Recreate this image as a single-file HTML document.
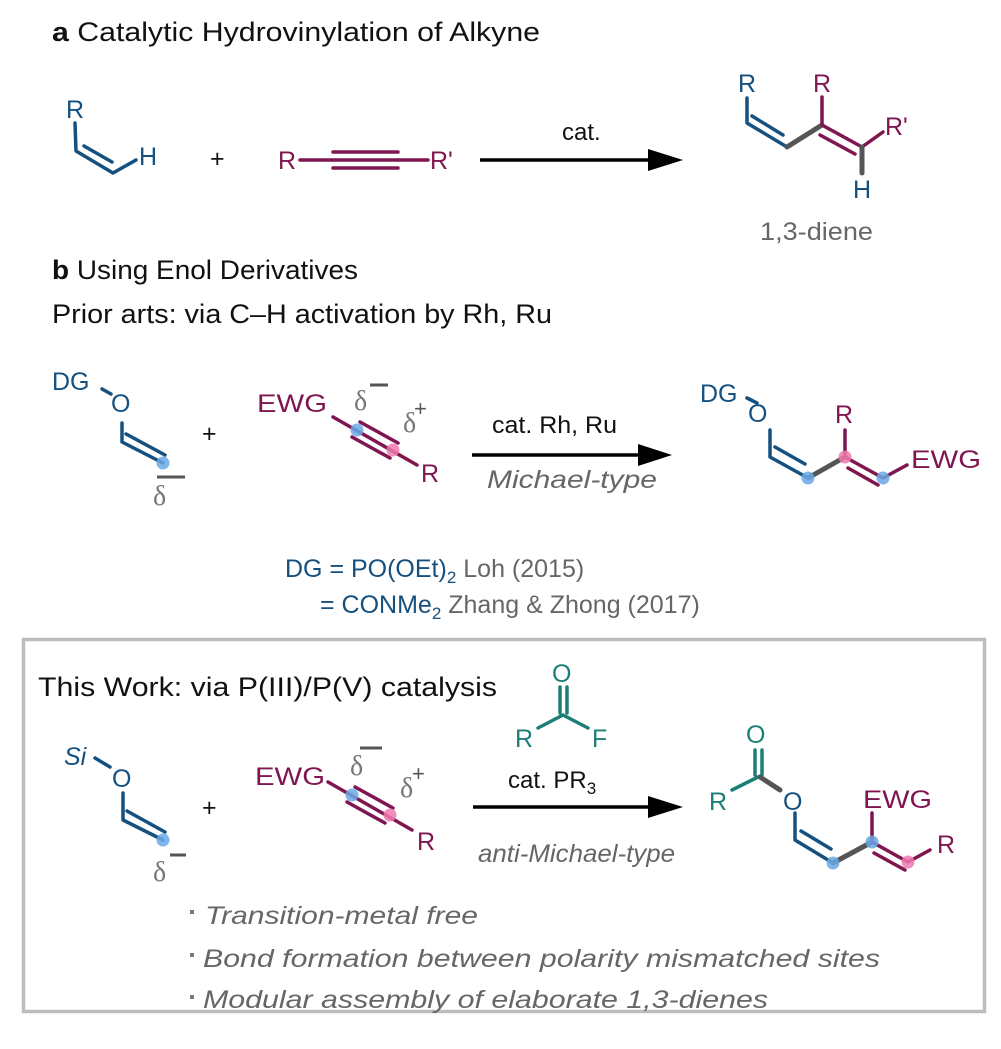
<!DOCTYPE html>
<html><head><meta charset="utf-8"><style>
html,body{margin:0;padding:0;background:#fff;}
svg{display:block;font-family:"Liberation Sans",Arial,sans-serif;}
</style></head><body>
<svg width="1001" height="1049" viewBox="0 0 1001 1049" xmlns="http://www.w3.org/2000/svg">
<g font-size="27" fill="#111">
<text x="52" y="41" textLength="488" lengthAdjust="spacingAndGlyphs"><tspan font-weight="bold">a</tspan> Catalytic Hydrovinylation of Alkyne</text>
<text x="52" y="279" textLength="306" lengthAdjust="spacingAndGlyphs"><tspan font-weight="bold">b</tspan> Using Enol Derivatives</text>
<text x="52" y="323" textLength="500" lengthAdjust="spacingAndGlyphs">Prior arts: via C–H activation by Rh, Ru</text>
<text x="38" y="696" textLength="459" lengthAdjust="spacingAndGlyphs">This Work: via P(III)/P(V) catalysis</text>
</g>

<!-- arrows -->
<g fill="#000">
<path d="M480,158.3 L650,158.3 L650,161.7 L480,161.7 Z"/><path d="M648,149 L683,160 L648,171 Z"/>
<path d="M472,453.3 L640,453.3 L640,456.7 L472,456.7 Z"/><path d="M638,444 L672,455 L638,466 Z"/>
<path d="M473,805.3 L650,805.3 L650,808.7 L473,808.7 Z"/><path d="M648,796 L683,807 L648,818 Z"/>
</g>

<!-- Section a -->
<g stroke-width="3.5" fill="none" stroke-linecap="round" stroke-linejoin="round">
<path d="M75,123 L76,151 L113,173 L136,160" stroke="#15507f"/>
<path d="M84,146 L112,162" stroke="#15507f"/>
<path d="M300,160 L332,160 M398,160 L428,160" stroke="#7f1650"/>
<path d="M333,152 L398,152 M333,160 L398,160 M333,168 L398,168" stroke="#7f1650"/>
<path d="M747,98 L747,123 L787,147" stroke="#15507f"/>
<path d="M752,116 L783,135" stroke="#15507f" transform="translate(0,0)"/>
<path d="M787,147 L822,125" stroke="#555" stroke-width="5"/>
<path d="M822,97 L822,125 L862,147 L883,132" stroke="#7f1650"/>
<path d="M820,135 L855,154" stroke="#7f1650"/>
<path d="M862,147 L862,173" stroke="#555" stroke-width="5"/>
</g>
<g font-size="25">
<text x="66" y="118" fill="#15507f">R</text>
<text x="139" y="165" fill="#15507f">H</text>
<text x="210" y="167" fill="#111">+</text>
<text x="278" y="169" fill="#7f1650">R</text>
<text x="430" y="169" fill="#7f1650">R'</text>
<text x="562" y="140" fill="#111" font-size="24">cat.</text>
<text x="738" y="92" fill="#15507f">R</text>
<text x="813" y="92" fill="#7f1650">R</text>
<text x="885" y="135" fill="#7f1650">R'</text>
<text x="853" y="198" fill="#15507f">H</text>
<text x="760" y="240" fill="#666" textLength="113" lengthAdjust="spacingAndGlyphs">1,3-diene</text>
</g>

<!-- Section b prior arts -->
<g stroke-width="3.5" fill="none" stroke-linecap="round" stroke-linejoin="round">
<path d="M102,389 L111,394" stroke="#15507f"/>
<path d="M122,423 L122,442 L163,463" stroke="#15507f"/>
<path d="M126,434 L165,455" stroke="#15507f"/>
<path d="M333,417 L417,465" stroke="#7f1650"/>
<path d="M360,422 L398,443 M352,437 L390,458" stroke="#7f1650"/>
<path d="M747,398 L757,403" stroke="#15507f"/>
<path d="M770,430 L770,457 L808,478" stroke="#15507f"/>
<path d="M775,447 L805,464" stroke="#15507f"/>
<path d="M808,478 L845,457" stroke="#555" stroke-width="5"/>
<path d="M845,430 L845,457 L883,478 L907,465" stroke="#7f1650"/>
<path d="M848,468 L878,485" stroke="#7f1650"/>
</g>
<g opacity="0.85">
<circle cx="163" cy="463" r="6.5" fill="#6aa9e6"/>
<circle cx="357" cy="430" r="6.5" fill="#6aa9e6"/>
<circle cx="393" cy="450" r="6.5" fill="#f07ab0"/>
<circle cx="808" cy="478" r="6.5" fill="#6aa9e6"/>
<circle cx="845" cy="457" r="6.5" fill="#f07ab0"/>
<circle cx="883" cy="478" r="6.5" fill="#6aa9e6"/>
</g>
<g font-size="25">
<text x="52" y="390" fill="#15507f">DG</text>
<text x="111" y="412" fill="#15507f">O</text>
<text x="153" y="505" fill="#777" font-size="28" font-family="Liberation Serif,serif">δ</text>
<path d="M157,477 L185,477" stroke="#555" stroke-width="3"/>
<text x="202" y="442" fill="#111">+</text>
<text x="257" y="412" fill="#7f1650" textLength="70" lengthAdjust="spacingAndGlyphs">EWG</text>
<text x="354" y="410" fill="#777" font-size="28" font-family="Liberation Serif,serif">δ</text>
<path d="M370,385 L388,385" stroke="#555" stroke-width="3"/>
<text x="403" y="432" fill="#777" font-size="28" font-family="Liberation Serif,serif">δ</text>
<text x="414" y="416" fill="#555" font-size="22">+</text>
<text x="421" y="482" fill="#7f1650">R</text>
<text x="492" y="433" fill="#111" font-size="24" textLength="125" lengthAdjust="spacingAndGlyphs">cat. Rh, Ru</text>
<text x="487" y="488" fill="#666" font-style="italic" textLength="170" lengthAdjust="spacingAndGlyphs">Michael-type</text>
<text x="700" y="402" fill="#15507f">DG</text>
<text x="748" y="422" fill="#15507f">O</text>
<text x="835" y="423" fill="#7f1650">R</text>
<text x="911" y="468" fill="#7f1650" textLength="70" lengthAdjust="spacingAndGlyphs">EWG</text>
</g>
<g font-size="25">
<text x="285" y="577"><tspan fill="#15507f">DG = PO(OEt)</tspan><tspan fill="#15507f" font-size="17" dy="6">2</tspan><tspan fill="#666" dy="-6"> Loh (2015)</tspan></text>
<text x="320" y="613"><tspan fill="#15507f">= CONMe</tspan><tspan fill="#15507f" font-size="17" dy="6">2</tspan><tspan fill="#666" dy="-6"> Zhang &amp; Zhong (2017)</tspan></text>
</g>

<!-- Box -->
<rect x="23.5" y="639.5" width="961" height="372" fill="none" stroke="#bdbdbd" stroke-width="3.5"/>

<g stroke-width="3.5" fill="none" stroke-linecap="round" stroke-linejoin="round">
<path d="M560,687 L560,713 M567,687 L567,713" stroke="#1b7f78"/>
<path d="M538,728 L563,715 L588,728" stroke="#1b7f78"/>
<path d="M95,758 L110,767" stroke="#15507f"/>
<path d="M123,793 L123,820 L163,840" stroke="#15507f"/>
<path d="M127,811 L165,832" stroke="#15507f"/>
<path d="M328,782 L412,830" stroke="#7f1650"/>
<path d="M355,787 L393,808 M347,802 L385,823" stroke="#7f1650"/>
<path d="M755,750 L755,775 M762,750 L762,775" stroke="#1b7f78"/>
<path d="M732,790 L758,777" stroke="#1b7f78"/>
<path d="M760,777 L780,790" stroke="#555" stroke-width="5"/>
<path d="M795,813 L795,840 L833,863" stroke="#15507f"/>
<path d="M801,831 L831,849" stroke="#15507f"/>
<path d="M833,863 L872,842" stroke="#555" stroke-width="5"/>
<path d="M872,813 L872,842 L908,862 L930,850" stroke="#7f1650"/>
<path d="M874,853 L905,870" stroke="#7f1650"/>
</g>
<g opacity="0.85">
<circle cx="163" cy="840" r="6.5" fill="#6aa9e6"/>
<circle cx="352" cy="795" r="6.5" fill="#6aa9e6"/>
<circle cx="390" cy="815" r="6.5" fill="#f07ab0"/>
<circle cx="833" cy="863" r="6.5" fill="#6aa9e6"/>
<circle cx="872" cy="842" r="6.5" fill="#6aa9e6"/>
<circle cx="908" cy="862" r="6.5" fill="#f07ab0"/>
</g>
<g font-size="25">
<text x="552" y="682" fill="#1b7f78">O</text>
<text x="515" y="747" fill="#1b7f78">R</text>
<text x="592" y="747" fill="#1b7f78">F</text>
<text x="64" y="765" fill="#15507f" font-style="italic">Si</text>
<text x="112" y="787" fill="#15507f">O</text>
<text x="153" y="881" fill="#777" font-size="28" font-family="Liberation Serif,serif">δ</text>
<path d="M170,855 L186,855" stroke="#555" stroke-width="3"/>
<text x="202" y="816" fill="#111">+</text>
<text x="255" y="785" fill="#7f1650" textLength="70" lengthAdjust="spacingAndGlyphs">EWG</text>
<text x="350" y="775" fill="#777" font-size="28" font-family="Liberation Serif,serif">δ</text>
<path d="M360,748 L382,748" stroke="#555" stroke-width="3"/>
<text x="400" y="797" fill="#777" font-size="28" font-family="Liberation Serif,serif">δ</text>
<text x="412" y="781" fill="#555" font-size="22">+</text>
<text x="417" y="850" fill="#7f1650">R</text>
<text x="508" y="788" fill="#111" font-size="24">cat. PR<tspan font-size="17" dy="6">3</tspan></text>
<text x="478" y="862" fill="#666" font-style="italic" textLength="197" lengthAdjust="spacingAndGlyphs">anti-Michael-type</text>
<text x="746" y="743" fill="#1b7f78">O</text>
<text x="709" y="810" fill="#1b7f78">R</text>
<text x="783" y="810" fill="#15507f">O</text>
<text x="863" y="808" fill="#7f1650" textLength="69" lengthAdjust="spacingAndGlyphs">EWG</text>
<text x="937" y="853" fill="#7f1650">R</text>
</g>
<g font-size="25" fill="#666" font-style="italic">
<rect x="190" y="910" width="4" height="4" fill="#777"/>
<rect x="190" y="953" width="4" height="4" fill="#777"/>
<rect x="190" y="995" width="4" height="4" fill="#777"/>
<text x="205" y="924" textLength="273" lengthAdjust="spacingAndGlyphs">Transition-metal free</text>
<text x="203" y="967" textLength="677" lengthAdjust="spacingAndGlyphs">Bond formation between polarity mismatched sites</text>
<text x="203" y="1008" textLength="565" lengthAdjust="spacingAndGlyphs">Modular assembly of elaborate 1,3-dienes</text>
</g>
</svg>
</body></html>
